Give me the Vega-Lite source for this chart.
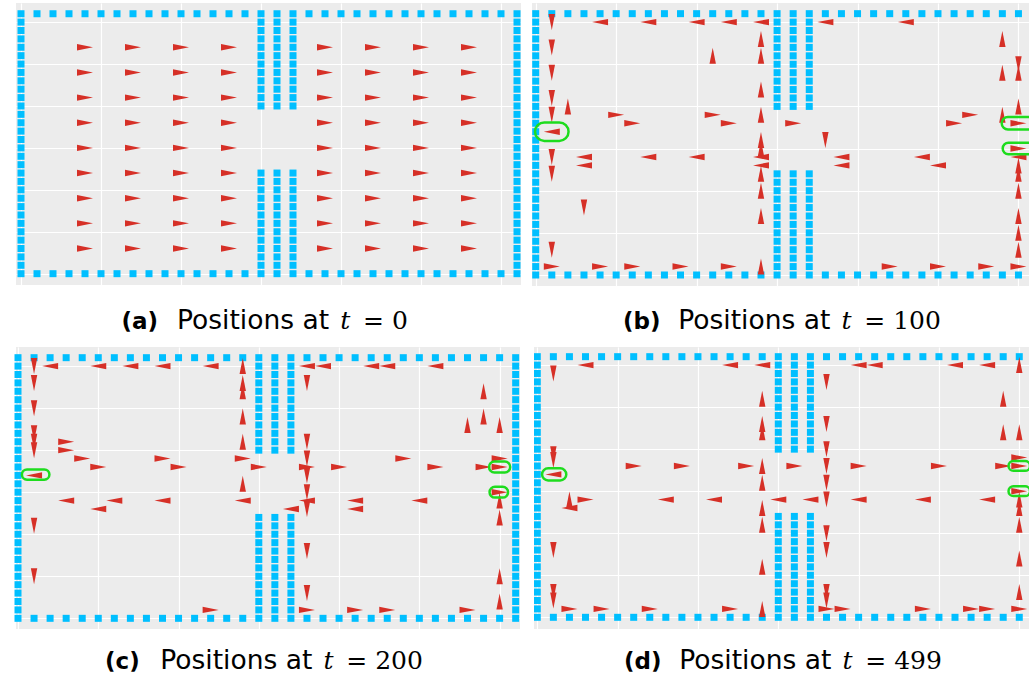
{
"$schema": "https://vega.github.io/schema/vega-lite/v6.json",
"padding": {"left": 14, "top": 3, "right": 0, "bottom": 0},
"autosize": {"type": "pad"},
"background": "white",
"config": {
  "view": {"stroke": null, "fill": "#ECECEC"},
  "axis": {"grid": true, "gridColor": "#FFFFFF", "gridWidth": 1.2, "gridOpacity": 1, "labels": false, "ticks": false, "domain": false, "minExtent": 0, "maxExtent": 0, "titleColor": "#000000", "titleFontSize": 25, "titlePadding": 0, "titleAngle": 0, "titleBaseline": "alphabetic", "titleAlign": "left", "titleFont": "DejaVu Sans", "titleFontWeight": "normal"}
},
"datasets": {
"walls": [
{"x":0,"y":31},{"x":1,"y":31},{"x":2,"y":31},{"x":3,"y":31},{"x":4,"y":31},{"x":5,"y":31},{"x":6,"y":31},{"x":7,"y":31},{"x":8,"y":31},{"x":9,"y":31},{"x":10,"y":31},{"x":11,"y":31},{"x":12,"y":31},{"x":13,"y":31},{"x":14,"y":31},{"x":15,"y":31},{"x":16,"y":31},{"x":17,"y":31},{"x":18,"y":31},{"x":19,"y":31},{"x":20,"y":31},{"x":21,"y":31},{"x":22,"y":31},{"x":23,"y":31},{"x":24,"y":31},{"x":25,"y":31},{"x":26,"y":31},{"x":27,"y":31},{"x":28,"y":31},{"x":29,"y":31},{"x":30,"y":31},{"x":31,"y":31},
{"x":0,"y":0},{"x":1,"y":0},{"x":2,"y":0},{"x":3,"y":0},{"x":4,"y":0},{"x":5,"y":0},{"x":6,"y":0},{"x":7,"y":0},{"x":8,"y":0},{"x":9,"y":0},{"x":10,"y":0},{"x":11,"y":0},{"x":12,"y":0},{"x":13,"y":0},{"x":14,"y":0},{"x":15,"y":0},{"x":16,"y":0},{"x":17,"y":0},{"x":18,"y":0},{"x":19,"y":0},{"x":20,"y":0},{"x":21,"y":0},{"x":22,"y":0},{"x":23,"y":0},{"x":24,"y":0},{"x":25,"y":0},{"x":26,"y":0},{"x":27,"y":0},{"x":28,"y":0},{"x":29,"y":0},{"x":30,"y":0},{"x":31,"y":0},
{"x":0,"y":1},{"x":0,"y":2},{"x":0,"y":3},{"x":0,"y":4},{"x":0,"y":5},{"x":0,"y":6},{"x":0,"y":7},{"x":0,"y":8},{"x":0,"y":9},{"x":0,"y":10},{"x":0,"y":11},{"x":0,"y":12},{"x":0,"y":13},{"x":0,"y":14},{"x":0,"y":15},{"x":0,"y":16},{"x":0,"y":17},{"x":0,"y":18},{"x":0,"y":19},{"x":0,"y":20},{"x":0,"y":21},{"x":0,"y":22},{"x":0,"y":23},{"x":0,"y":24},{"x":0,"y":25},{"x":0,"y":26},{"x":0,"y":27},{"x":0,"y":28},{"x":0,"y":29},{"x":0,"y":30},
{"x":31,"y":1},{"x":31,"y":2},{"x":31,"y":3},{"x":31,"y":4},{"x":31,"y":5},{"x":31,"y":6},{"x":31,"y":7},{"x":31,"y":8},{"x":31,"y":9},{"x":31,"y":10},{"x":31,"y":11},{"x":31,"y":12},{"x":31,"y":13},{"x":31,"y":14},{"x":31,"y":15},{"x":31,"y":16},{"x":31,"y":17},{"x":31,"y":18},{"x":31,"y":19},{"x":31,"y":20},{"x":31,"y":21},{"x":31,"y":22},{"x":31,"y":23},{"x":31,"y":24},{"x":31,"y":25},{"x":31,"y":26},{"x":31,"y":27},{"x":31,"y":28},{"x":31,"y":29},{"x":31,"y":30},
{"x":15,"y":20},{"x":15,"y":21},{"x":15,"y":22},{"x":15,"y":23},{"x":15,"y":24},{"x":15,"y":25},{"x":15,"y":26},{"x":15,"y":27},{"x":15,"y":28},{"x":15,"y":29},{"x":15,"y":30},
{"x":16,"y":20},{"x":16,"y":21},{"x":16,"y":22},{"x":16,"y":23},{"x":16,"y":24},{"x":16,"y":25},{"x":16,"y":26},{"x":16,"y":27},{"x":16,"y":28},{"x":16,"y":29},{"x":16,"y":30},
{"x":17,"y":20},{"x":17,"y":21},{"x":17,"y":22},{"x":17,"y":23},{"x":17,"y":24},{"x":17,"y":25},{"x":17,"y":26},{"x":17,"y":27},{"x":17,"y":28},{"x":17,"y":29},{"x":17,"y":30},
{"x":15,"y":1},{"x":15,"y":2},{"x":15,"y":3},{"x":15,"y":4},{"x":15,"y":5},{"x":15,"y":6},{"x":15,"y":7},{"x":15,"y":8},{"x":15,"y":9},{"x":15,"y":10},{"x":15,"y":11},{"x":15,"y":12},
{"x":16,"y":1},{"x":16,"y":2},{"x":16,"y":3},{"x":16,"y":4},{"x":16,"y":5},{"x":16,"y":6},{"x":16,"y":7},{"x":16,"y":8},{"x":16,"y":9},{"x":16,"y":10},{"x":16,"y":11},{"x":16,"y":12},
{"x":17,"y":1},{"x":17,"y":2},{"x":17,"y":3},{"x":17,"y":4},{"x":17,"y":5},{"x":17,"y":6},{"x":17,"y":7},{"x":17,"y":8},{"x":17,"y":9},{"x":17,"y":10},{"x":17,"y":11},{"x":17,"y":12}
],
"a": [
{"x":4,"y":3,"h":0},{"x":7,"y":3,"h":0},{"x":10,"y":3,"h":0},{"x":13,"y":3,"h":0},{"x":19,"y":3,"h":0},{"x":22,"y":3,"h":0},{"x":25,"y":3,"h":0},{"x":28,"y":3,"h":0},
{"x":4,"y":6,"h":0},{"x":7,"y":6,"h":0},{"x":10,"y":6,"h":0},{"x":13,"y":6,"h":0},{"x":19,"y":6,"h":0},{"x":22,"y":6,"h":0},{"x":25,"y":6,"h":0},{"x":28,"y":6,"h":0},
{"x":4,"y":9,"h":0},{"x":7,"y":9,"h":0},{"x":10,"y":9,"h":0},{"x":13,"y":9,"h":0},{"x":19,"y":9,"h":0},{"x":22,"y":9,"h":0},{"x":25,"y":9,"h":0},{"x":28,"y":9,"h":0},
{"x":4,"y":12,"h":0},{"x":7,"y":12,"h":0},{"x":10,"y":12,"h":0},{"x":13,"y":12,"h":0},{"x":19,"y":12,"h":0},{"x":22,"y":12,"h":0},{"x":25,"y":12,"h":0},{"x":28,"y":12,"h":0},
{"x":4,"y":15,"h":0},{"x":7,"y":15,"h":0},{"x":10,"y":15,"h":0},{"x":13,"y":15,"h":0},{"x":19,"y":15,"h":0},{"x":22,"y":15,"h":0},{"x":25,"y":15,"h":0},{"x":28,"y":15,"h":0},
{"x":4,"y":18,"h":0},{"x":7,"y":18,"h":0},{"x":10,"y":18,"h":0},{"x":13,"y":18,"h":0},{"x":19,"y":18,"h":0},{"x":22,"y":18,"h":0},{"x":25,"y":18,"h":0},{"x":28,"y":18,"h":0},
{"x":4,"y":21,"h":0},{"x":7,"y":21,"h":0},{"x":10,"y":21,"h":0},{"x":13,"y":21,"h":0},{"x":19,"y":21,"h":0},{"x":22,"y":21,"h":0},{"x":25,"y":21,"h":0},{"x":28,"y":21,"h":0},
{"x":4,"y":24,"h":0},{"x":7,"y":24,"h":0},{"x":10,"y":24,"h":0},{"x":13,"y":24,"h":0},{"x":19,"y":24,"h":0},{"x":22,"y":24,"h":0},{"x":25,"y":24,"h":0},{"x":28,"y":24,"h":0},
{"x":4,"y":27,"h":0},{"x":7,"y":27,"h":0},{"x":10,"y":27,"h":0},{"x":13,"y":27,"h":0},{"x":19,"y":27,"h":0},{"x":22,"y":27,"h":0},{"x":25,"y":27,"h":0},{"x":28,"y":27,"h":0}
],
"b": [
{"x":4,"y":30,"h":180},{"x":7,"y":30,"h":180},{"x":10,"y":30,"h":180},{"x":12,"y":30,"h":180},{"x":14,"y":30,"h":180},{"x":18,"y":30,"h":180},{"x":23,"y":30,"h":180},
{"x":1,"y":30,"h":90},{"x":1,"y":27,"h":90},{"x":1,"y":24,"h":90},{"x":1,"y":21,"h":90},{"x":1,"y":19,"h":90},
{"x":1,"y":17,"h":180},
{"x":1,"y":14,"h":90},{"x":1,"y":12,"h":90},{"x":1,"y":3,"h":90},
{"x":2,"y":20,"h":270},
{"x":5,"y":19,"h":0},{"x":6,"y":18,"h":0},{"x":11,"y":19,"h":0},{"x":12,"y":18,"h":0},
{"x":11,"y":26,"h":270},
{"x":14,"y":28,"h":270},{"x":14,"y":26,"h":270},{"x":14,"y":22,"h":270},{"x":14,"y":19,"h":270},{"x":14,"y":16,"h":270},{"x":14,"y":15,"h":270},{"x":14,"y":12,"h":270},{"x":14,"y":10,"h":270},{"x":14,"y":7,"h":270},{"x":14,"y":1,"h":270},
{"x":14,"y":14,"h":180},{"x":14,"y":13,"h":180},{"x":3,"y":14,"h":180},{"x":3,"y":13,"h":180},{"x":7,"y":14,"h":180},{"x":10,"y":14,"h":180},
{"x":3,"y":8,"h":90},
{"x":1,"y":1,"h":0},{"x":4,"y":1,"h":0},{"x":6,"y":1,"h":0},{"x":9,"y":1,"h":0},{"x":12,"y":1,"h":0},{"x":22,"y":1,"h":0},{"x":25,"y":1,"h":0},{"x":28,"y":1,"h":0},{"x":30,"y":1,"h":0},
{"x":16,"y":18,"h":0},
{"x":18,"y":16,"h":90},
{"x":19,"y":14,"h":180},{"x":19,"y":13,"h":180},{"x":24,"y":14,"h":180},{"x":25,"y":13,"h":180},
{"x":26,"y":18,"h":0},{"x":27,"y":19,"h":0},
{"x":29,"y":28,"h":270},{"x":29,"y":24,"h":270},{"x":29,"y":19,"h":270},
{"x":30,"y":25,"h":90},{"x":30,"y":24,"h":270},{"x":30,"y":20,"h":270},{"x":30,"y":18,"h":0},{"x":30,"y":15,"h":0},{"x":30,"y":14,"h":180},
{"x":30,"y":13,"h":270},{"x":30,"y":12,"h":270},{"x":30,"y":10,"h":270},{"x":30,"y":7,"h":270},{"x":30,"y":5,"h":270},{"x":30,"y":3,"h":270}
],
"c": [
{"x":2,"y":30,"h":180},{"x":5,"y":30,"h":180},{"x":7,"y":30,"h":180},{"x":9,"y":30,"h":180},{"x":12,"y":30,"h":180},{"x":18,"y":30,"h":180},{"x":19,"y":30,"h":180},{"x":22,"y":30,"h":180},{"x":23,"y":30,"h":180},{"x":26,"y":30,"h":180},
{"x":1,"y":30,"h":90},{"x":1,"y":28,"h":90},{"x":1,"y":25,"h":90},{"x":1,"y":22,"h":90},{"x":1,"y":21,"h":90},{"x":1,"y":20,"h":90},{"x":1,"y":11,"h":90},{"x":1,"y":5,"h":90},
{"x":1,"y":17,"h":180},
{"x":14,"y":30,"h":270},{"x":14,"y":28,"h":270},{"x":14,"y":27,"h":270},{"x":14,"y":24,"h":270},{"x":14,"y":21,"h":270},{"x":14,"y":16,"h":270},
{"x":14,"y":19,"h":0},{"x":14,"y":14,"h":180},
{"x":3,"y":21,"h":0},{"x":3,"y":20,"h":0},{"x":4,"y":19,"h":0},{"x":5,"y":18,"h":0},{"x":9,"y":19,"h":0},{"x":10,"y":18,"h":0},{"x":15,"y":18,"h":0},
{"x":3,"y":14,"h":180},{"x":5,"y":13,"h":180},{"x":6,"y":14,"h":180},{"x":9,"y":14,"h":180},
{"x":12,"y":1,"h":0},
{"x":18,"y":28,"h":90},{"x":18,"y":21,"h":90},{"x":18,"y":19,"h":90},{"x":18,"y":17,"h":90},{"x":18,"y":15,"h":90},{"x":18,"y":13,"h":90},{"x":18,"y":8,"h":90},{"x":18,"y":3,"h":90},
{"x":18,"y":18,"h":0},{"x":18,"y":14,"h":180},{"x":17,"y":13,"h":180},{"x":18,"y":1,"h":0},
{"x":20,"y":18,"h":0},{"x":24,"y":19,"h":0},{"x":26,"y":18,"h":0},{"x":29,"y":18,"h":0},{"x":30,"y":19,"h":0},{"x":30,"y":18,"h":0},{"x":30,"y":15,"h":0},
{"x":30,"y":23,"h":270},{"x":30,"y":14,"h":270},{"x":30,"y":12,"h":270},{"x":30,"y":5,"h":270},{"x":30,"y":2,"h":270},
{"x":28,"y":23,"h":270},{"x":29,"y":27,"h":270},{"x":29,"y":24,"h":270},
{"x":21,"y":14,"h":180},{"x":21,"y":13,"h":180},{"x":25,"y":14,"h":180},
{"x":21,"y":1,"h":0},{"x":23,"y":1,"h":0},{"x":28,"y":1,"h":0}
],
"d": [
{"x":3,"y":30,"h":180},{"x":12,"y":30,"h":180},{"x":14,"y":30,"h":180},{"x":20,"y":30,"h":180},{"x":21,"y":30,"h":180},{"x":26,"y":30,"h":180},{"x":28,"y":30,"h":180},
{"x":30,"y":30,"h":270},
{"x":1,"y":29,"h":90},{"x":1,"y":19.4,"h":90},{"x":1,"y":18.7,"h":90},{"x":1,"y":8,"h":90},{"x":1,"y":3,"h":90},{"x":1,"y":2,"h":90},
{"x":1,"y":17,"h":180},
{"x":2,"y":14,"h":270},{"x":2,"y":13,"h":180},{"x":3,"y":14,"h":0},
{"x":8,"y":14,"h":180},{"x":11,"y":14,"h":180},
{"x":6,"y":18,"h":0},{"x":9,"y":18,"h":0},{"x":13,"y":18,"h":0},{"x":16,"y":18,"h":0},
{"x":2,"y":1,"h":0},{"x":4,"y":1,"h":0},{"x":7,"y":1,"h":0},{"x":12,"y":1,"h":0},{"x":18,"y":1,"h":0},{"x":19,"y":1,"h":0},{"x":24,"y":1,"h":0},{"x":27,"y":1,"h":0},{"x":28,"y":1,"h":0},{"x":30,"y":1,"h":0},
{"x":14,"y":26,"h":270},{"x":14,"y":23,"h":270},{"x":14,"y":22,"h":270},{"x":14,"y":18,"h":270},{"x":14,"y":16,"h":270},{"x":14,"y":13,"h":270},{"x":14,"y":11,"h":270},{"x":14,"y":6,"h":270},{"x":14,"y":1,"h":270},
{"x":15,"y":14,"h":180},{"x":17,"y":14,"h":180},
{"x":18,"y":28,"h":90},{"x":18,"y":23,"h":90},{"x":18,"y":20,"h":90},{"x":18,"y":18,"h":90},{"x":18,"y":16,"h":90},{"x":18,"y":14,"h":90},{"x":18,"y":10,"h":90},{"x":18,"y":8,"h":90},{"x":18,"y":3,"h":90},{"x":18,"y":2,"h":90},
{"x":20,"y":14,"h":180},{"x":24,"y":14,"h":180},{"x":28,"y":14,"h":180},
{"x":20,"y":18,"h":0},{"x":25,"y":18,"h":0},{"x":29,"y":18,"h":0},{"x":30,"y":19,"h":0},{"x":30,"y":18,"h":0},{"x":30,"y":15,"h":0},
{"x":29,"y":26,"h":270},{"x":29,"y":22,"h":270},
{"x":30,"y":22,"h":270},{"x":30,"y":14,"h":270},{"x":30,"y":13,"h":270},{"x":30,"y":11,"h":270},{"x":30,"y":7,"h":270},{"x":30,"y":3,"h":270}
],
"rb": [{"x":1,"y":17,"k":"bL"},{"x":30,"y":18,"k":"bR1"},{"x":30,"y":15,"k":"bR2"}],
"rc": [{"x":1.1,"y":17.1,"k":"cL"},{"x":30,"y":18,"k":"cR1"},{"x":29.95,"y":15,"k":"cR2"}],
"rd": [{"x":1.05,"y":17,"k":"dL"},{"x":30,"y":18,"k":"dR"},{"x":30,"y":15,"k":"dR"}]
},
"spacing": 13,
"vconcat": [
{"hconcat": [
{"width": 505, "height": 282,
 "resolve": {"axis": {"x": "independent", "y": "independent"}},
 "layer": [
  {"data": {"name": "walls"}, "mark": {"type": "point", "shape": "square", "filled": true, "color": "#00BFFF", "size": 49, "opacity": 1},
   "encoding": {
    "x": {"field": "x", "type": "quantitative", "title": "(a)", "scale": {"domain": [-0.3125, 31.25], "nice": false, "zero": false}, "axis": {"orient": "bottom", "values": [0,5,10,15,20,25,30], "titleFontWeight": "bold", "titleFontSize": 23, "titleX": 105, "titleY": 43.3}},
    "y": {"field": "y", "type": "quantitative", "title": "Positions at", "scale": {"domain": [-1.35, 32.28], "nice": false, "zero": false}, "axis": {"orient": "left", "values": [0,5,10,15,20,25,30], "titleFontSize": 26.5, "titleX": 160.5, "titleY": 325.3}}
   }},
  {"data": {"name": "a"}, "mark": {"type": "point", "shape": "M-8,-3.2L8,0L-8,3.2Z", "filled": true, "color": "#D63027", "size": 4, "opacity": 1},
   "encoding": {
    "x": {"field": "x", "type": "quantitative", "title": "t", "axis": {"orient": "top", "grid": false, "titleFont": "DejaVu Serif", "titleFontStyle": "italic", "titleX": 323.8, "titleY": 325.3}},
    "y": {"field": "y", "type": "quantitative", "title": "= 0", "axis": {"orient": "right", "grid": false, "titleFont": "DejaVu Serif", "titleX": -158.5, "titleY": 325.3}},
    "angle": {"field": "h", "type": "quantitative", "scale": null}
   }}
 ]},
{"width": 499, "height": 283,
 "resolve": {"axis": {"x": "independent", "y": "independent"}},
 "layer": [
  {"data": {"name": "walls"}, "mark": {"type": "point", "shape": "square", "filled": true, "color": "#00BFFF", "size": 49, "opacity": 1, "clip": true},
   "encoding": {
    "x": {"field": "x", "type": "quantitative", "title": "(b)", "scale": {"domain": [-0.23, 30.78], "nice": false, "zero": false}, "axis": {"orient": "bottom", "values": [0,5,10,15,20,25,30], "titleFontWeight": "bold", "titleFontSize": 23, "titleX": 90.5, "titleY": 42.3}},
    "y": {"field": "y", "type": "quantitative", "title": "Positions at", "scale": {"domain": [-1.305, 32.265], "nice": false, "zero": false}, "axis": {"orient": "left", "values": [0,5,10,15,20,25,30], "titleFontSize": 26.5, "titleX": 145.8, "titleY": 325.3}}
   }},
  {"data": {"name": "b"}, "mark": {"type": "point", "shape": "M-8,-3.2L8,0L-8,3.2Z", "filled": true, "color": "#D63027", "size": 4, "opacity": 1, "clip": true},
   "encoding": {
    "x": {"field": "x", "type": "quantitative", "title": "t", "axis": {"orient": "top", "grid": false, "titleFont": "DejaVu Serif", "titleFontStyle": "italic", "titleX": 309.1, "titleY": 325.3}},
    "y": {"field": "y", "type": "quantitative", "title": "= 100", "axis": {"orient": "right", "grid": false, "titleFont": "DejaVu Serif", "titleX": -167.2, "titleY": 325.3}},
    "angle": {"field": "h", "type": "quantitative", "scale": null}
   }},
  {"data": {"name": "rb"}, "mark": {"type": "point", "filled": false, "stroke": "#1EDC1E", "strokeWidth": 2.5, "size": 4, "opacity": 1, "clip": true},
   "encoding": {
    "x": {"field": "x", "type": "quantitative", "axis": null},
    "y": {"field": "y", "type": "quantitative", "axis": null},
    "shape": {"field": "k", "type": "nominal", "legend": null, "scale": {"domain": ["bL","bR1","bR2","cL","cR1","cR2","dL","dR"], "range": ["M-7.5 -9.25L7.5 -9.25A9.25 9.25 0 0 1 7.5 9.25L-7.5 9.25A9.25 9.25 0 0 1 -7.5 -9.25Z","M-10.5 -6.25L10.5 -6.25A6.25 6.25 0 0 1 10.5 6.25L-10.5 6.25A6.25 6.25 0 0 1 -10.5 -6.25Z","M-10 -5.75L10 -5.75A5.75 5.75 0 0 1 10 5.75L-10 5.75A5.75 5.75 0 0 1 -10 -5.75Z","M-8.65 -5.1L8.65 -5.1A5.1 5.1 0 0 1 8.65 5.1L-8.65 5.1A5.1 5.1 0 0 1 -8.65 -5.1Z","M-5.2 -5.4L5.2 -5.4A5.4 5.4 0 0 1 5.2 5.4L-5.2 5.4A5.4 5.4 0 0 1 -5.2 -5.4Z","M-3.85 -5.4L3.85 -5.4A5.4 5.4 0 0 1 3.85 5.4L-3.85 5.4A5.4 5.4 0 0 1 -3.85 -5.4Z","M-6 -6.1L6 -6.1A6.1 6.1 0 0 1 6 6.1L-6 6.1A6.1 6.1 0 0 1 -6 -6.1Z","M-5.85 -4.9L5.85 -4.9A4.9 4.9 0 0 1 5.85 4.9L-5.85 4.9A4.9 4.9 0 0 1 -5.85 -4.9Z"]}}
   }}
 ]}
], "spacing": 11, "bounds": "flush"},
{"hconcat": [
{"width": 504, "height": 282,
 "resolve": {"axis": {"x": "independent", "y": "independent"}},
 "layer": [
  {"data": {"name": "walls"}, "mark": {"type": "point", "shape": "square", "filled": true, "color": "#00BFFF", "size": 49, "opacity": 1},
   "encoding": {
    "x": {"field": "x", "type": "quantitative", "title": "(c)", "scale": {"domain": [-0.1246, 31.27], "nice": false, "zero": false}, "axis": {"orient": "bottom", "values": [0,5,10,15,20,25,30], "titleFontWeight": "bold", "titleFontSize": 23, "titleX": 88.5, "titleY": 39}},
    "y": {"field": "y", "type": "quantitative", "title": "Positions at", "scale": {"domain": [-1.27, 32.27], "nice": false, "zero": false}, "axis": {"orient": "left", "values": [0,5,10,15,20,25,30], "titleFontSize": 26.5, "titleX": 143.8, "titleY": 321}}
   }},
  {"data": {"name": "c"}, "mark": {"type": "point", "shape": "M-8,-3.2L8,0L-8,3.2Z", "filled": true, "color": "#D63027", "size": 4, "opacity": 1},
   "encoding": {
    "x": {"field": "x", "type": "quantitative", "title": "t", "axis": {"orient": "top", "grid": false, "titleFont": "DejaVu Serif", "titleFontStyle": "italic", "titleX": 307.1, "titleY": 321}},
    "y": {"field": "y", "type": "quantitative", "title": "= 200", "axis": {"orient": "right", "grid": false, "titleFont": "DejaVu Serif", "titleX": -174.2, "titleY": 321}},
    "angle": {"field": "h", "type": "quantitative", "scale": null}
   }},
  {"data": {"name": "rc"}, "mark": {"type": "point", "filled": false, "stroke": "#1EDC1E", "strokeWidth": 2.5, "size": 4, "opacity": 1},
   "encoding": {
    "x": {"field": "x", "type": "quantitative", "axis": null},
    "y": {"field": "y", "type": "quantitative", "axis": null},
    "shape": {"field": "k", "type": "nominal", "legend": null, "scale": {"domain": ["bL","bR1","bR2","cL","cR1","cR2","dL","dR"], "range": ["M-7.5 -9.25L7.5 -9.25A9.25 9.25 0 0 1 7.5 9.25L-7.5 9.25A9.25 9.25 0 0 1 -7.5 -9.25Z","M-10.5 -6.25L10.5 -6.25A6.25 6.25 0 0 1 10.5 6.25L-10.5 6.25A6.25 6.25 0 0 1 -10.5 -6.25Z","M-10 -5.75L10 -5.75A5.75 5.75 0 0 1 10 5.75L-10 5.75A5.75 5.75 0 0 1 -10 -5.75Z","M-8.65 -5.1L8.65 -5.1A5.1 5.1 0 0 1 8.65 5.1L-8.65 5.1A5.1 5.1 0 0 1 -8.65 -5.1Z","M-5.2 -5.4L5.2 -5.4A5.4 5.4 0 0 1 5.2 5.4L-5.2 5.4A5.4 5.4 0 0 1 -5.2 -5.4Z","M-3.85 -5.4L3.85 -5.4A5.4 5.4 0 0 1 3.85 5.4L-3.85 5.4A5.4 5.4 0 0 1 -3.85 -5.4Z","M-6 -6.1L6 -6.1A6.1 6.1 0 0 1 6 6.1L-6 6.1A6.1 6.1 0 0 1 -6 -6.1Z","M-5.85 -4.9L5.85 -4.9A4.9 4.9 0 0 1 5.85 4.9L-5.85 4.9A4.9 4.9 0 0 1 -5.85 -4.9Z"]}}
   }}
 ]},
{"width": 497, "height": 282,
 "resolve": {"axis": {"x": "independent", "y": "independent"}},
 "layer": [
  {"data": {"name": "walls"}, "mark": {"type": "point", "shape": "square", "filled": true, "color": "#00BFFF", "size": 49, "opacity": 1, "clip": true},
   "encoding": {
    "x": {"field": "x", "type": "quantitative", "title": "(d)", "scale": {"domain": [-0.2054, 30.73], "nice": false, "zero": false}, "axis": {"orient": "bottom", "values": [0,5,10,15,20,25,30], "titleFontWeight": "bold", "titleFontSize": 23, "titleX": 89.5, "titleY": 39}},
    "y": {"field": "y", "type": "quantitative", "title": "Positions at", "scale": {"domain": [-1.39, 32.15], "nice": false, "zero": false}, "axis": {"orient": "left", "values": [0,5,10,15,20,25,30], "titleFontSize": 26.5, "titleX": 144.8, "titleY": 321}}
   }},
  {"data": {"name": "d"}, "mark": {"type": "point", "shape": "M-8,-3.2L8,0L-8,3.2Z", "filled": true, "color": "#D63027", "size": 4, "opacity": 1, "clip": true},
   "encoding": {
    "x": {"field": "x", "type": "quantitative", "title": "t", "axis": {"orient": "top", "grid": false, "titleFont": "DejaVu Serif", "titleFontStyle": "italic", "titleX": 308.1, "titleY": 321}},
    "y": {"field": "y", "type": "quantitative", "title": "= 499", "axis": {"orient": "right", "grid": false, "titleFont": "DejaVu Serif", "titleX": -166.2, "titleY": 321}},
    "angle": {"field": "h", "type": "quantitative", "scale": null}
   }},
  {"data": {"name": "rd"}, "mark": {"type": "point", "filled": false, "stroke": "#1EDC1E", "strokeWidth": 2.5, "size": 4, "opacity": 1, "clip": true},
   "encoding": {
    "x": {"field": "x", "type": "quantitative", "axis": null},
    "y": {"field": "y", "type": "quantitative", "axis": null},
    "shape": {"field": "k", "type": "nominal", "legend": null, "scale": {"domain": ["bL","bR1","bR2","cL","cR1","cR2","dL","dR"], "range": ["M-7.5 -9.25L7.5 -9.25A9.25 9.25 0 0 1 7.5 9.25L-7.5 9.25A9.25 9.25 0 0 1 -7.5 -9.25Z","M-10.5 -6.25L10.5 -6.25A6.25 6.25 0 0 1 10.5 6.25L-10.5 6.25A6.25 6.25 0 0 1 -10.5 -6.25Z","M-10 -5.75L10 -5.75A5.75 5.75 0 0 1 10 5.75L-10 5.75A5.75 5.75 0 0 1 -10 -5.75Z","M-8.65 -5.1L8.65 -5.1A5.1 5.1 0 0 1 8.65 5.1L-8.65 5.1A5.1 5.1 0 0 1 -8.65 -5.1Z","M-5.2 -5.4L5.2 -5.4A5.4 5.4 0 0 1 5.2 5.4L-5.2 5.4A5.4 5.4 0 0 1 -5.2 -5.4Z","M-3.85 -5.4L3.85 -5.4A5.4 5.4 0 0 1 3.85 5.4L-3.85 5.4A5.4 5.4 0 0 1 -3.85 -5.4Z","M-6 -6.1L6 -6.1A6.1 6.1 0 0 1 6 6.1L-6 6.1A6.1 6.1 0 0 1 -6 -6.1Z","M-5.85 -4.9L5.85 -4.9A4.9 4.9 0 0 1 5.85 4.9L-5.85 4.9A4.9 4.9 0 0 1 -5.85 -4.9Z"]}}
   }}
 ]}
], "spacing": 14, "bounds": "flush"}
]
}
